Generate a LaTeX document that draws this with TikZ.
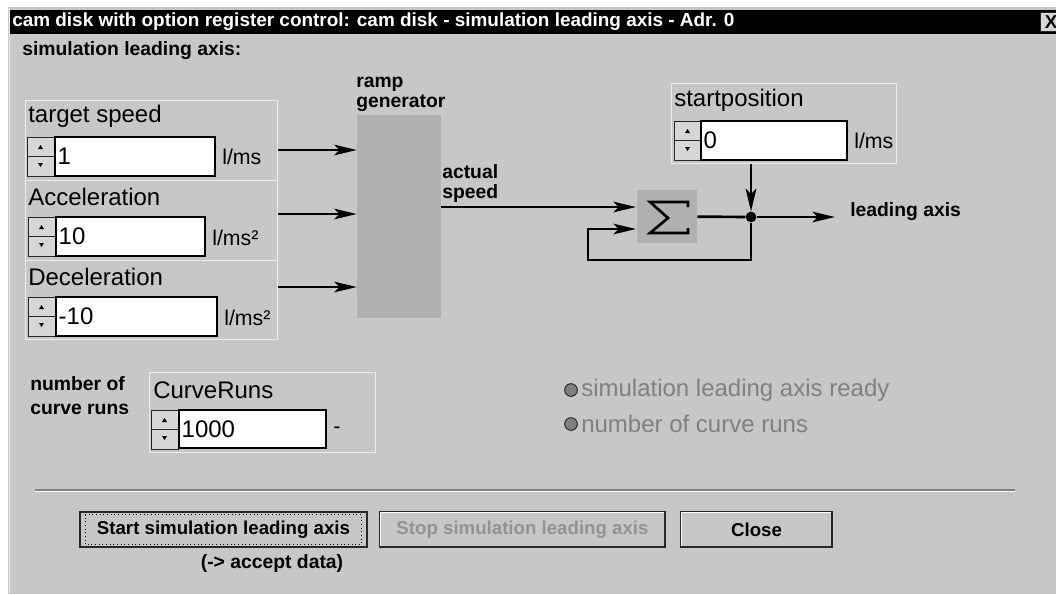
\documentclass[tikz,border=0pt]{standalone}
\usepackage{fontspec}
\setmainfont{Liberation Sans}
\usepackage{tikz}
\usetikzlibrary{arrows.meta,shapes}
\newcommand\BL{\fontsize{14.5}{15}\selectfont\bfseries}
\newcommand\GT{\fontsize{18}{20}\selectfont}
\newcommand\UT{\fontsize{16}{18}\selectfont}
\newcommand\TT{\fontsize{14.2}{16}\selectfont\bfseries}
\newcommand\BB{\fontsize{14}{16}\selectfont\bfseries}
\definecolor{dlg_gray}{RGB}{199,199,199}
\definecolor{ramp_gray}{RGB}{176,176,176}
\definecolor{btn_face}{RGB}{214,214,214}
\definecolor{etch_light}{RGB}{236,236,236}
\definecolor{text_gray}{RGB}{128,128,128}
\definecolor{edge_dark}{RGB}{40,40,40}
\newcommand\spinner[2]{%
  \begin{scope}[shift={(#1,#2)},line width=0.75pt]
    \filldraw[fill=btn_face,draw=edge_dark] (0,0) rectangle (27,19);
    \filldraw[fill=btn_face,draw=edge_dark] (0,19) rectangle (27,39);
    \fill (11,12) -- (16,12) -- (13.5,8) -- cycle;
    \fill (11,26) -- (16,26) -- (13.5,30) -- cycle;
  \end{scope}}

\begin{document}
\begin{tikzpicture}[x=0.75pt,y=-0.75pt]
    \tikzstyle{label}=[text=black,inner sep=0pt,anchor=west,font=\BL]
    \tikzstyle{grouptitle}=[inner sep=0pt,anchor=west,font=\GT]
    \tikzstyle{grp}=[draw=etch_light,line width=0.75pt,inner sep=0pt]
    \tikzstyle{field}=[draw=black,line width=1.5pt,fill=white,anchor=west,align=left,inner xsep=2pt,inner ysep=0pt,minimum height=29pt,font=\GT]
    \tikzstyle{unit}=[inner sep=0pt,anchor=west,font=\UT]
    \tikzstyle{block}=[fill=ramp_gray,inner sep=0pt]
    \tikzstyle{btn}=[draw=edge_dark,line width=1pt,fill=dlg_gray,minimum height=26.25pt,inner sep=0pt,font=\BB]
    \tikzstyle{led}=[circle,draw=edge_dark,line width=0.75pt,fill=text_gray,minimum size=9.5pt,inner sep=0pt]
    \tikzstyle{wire}=[->,line width=2pt,>={Stealth[length=17pt,width=8pt,inset=4pt]}]
    \tikzstyle{line}=[line width=2pt]

    % window
    \useasboundingbox (0,0) rectangle (1056,594);
    \fill[white] (0,0) rectangle (1056,594);
    \fill[dlg_gray] (8,7) rectangle (1056,594);
    \draw[etch_light,line width=1pt] (9.5,594) -- (9.5,8);
    \fill[black] (10,10) rectangle (1056,34);
    \node[text=white,inner sep=0pt,anchor=west,font=\TT] (title) at (12,22)
      {cam disk with option register control: cam disk - simulation leading axis - Adr. 0};
    \node[draw=edge_dark,fill=btn_face,line width=0.75pt,anchor=north west,minimum width=16pt,minimum height=14pt,inner sep=0pt,font=\BB] (X) at (1040,12) {X};
    \node[label] (head) at (22,51) {simulation leading axis:};

    % inputs
    \node[grp,minimum width=189pt,minimum height=60pt]    (T) at (151,140)   {};
    \node[grp,minimum width=189pt,minimum height=60pt]    (A) at (151,220)   {};
    \node[grp,minimum width=189pt,minimum height=59.25pt] (D) at (151,299.5) {};
    \node[grouptitle] (Tt) at (28,116) {target speed};
    \node[grouptitle] (At) at (28,197) {Acceleration};
    \node[grouptitle] (Dt) at (28,277) {Deceleration};
    \spinner{27}{137}
    \spinner{28}{217}
    \spinner{28}{297}
    \node[field,text width=116pt]    (tv) at (54,156.5) {1};
    \node[field,text width=107.75pt] (av) at (55,236.5) {10};
    \node[field,text width=116.75pt] (dv) at (55,316.5) {-10};
    \node[unit] (tu) at (222,157) {l/ms};
    \node[unit] (au) at (212,238) {l/ms²};
    \node[unit] (du) at (224,318) {l/ms²};

    % ramp generator and sum
    \node[block,minimum width=63pt,minimum height=152.25pt] (R) at (399,216.5) {};
    \node[label,anchor=north west,align=left] (Rt) at (356,77) {ramp\\generator};
    \node[label,anchor=north west,align=left] (Rv) at (442,164) {actual\\speed};
    \node[block,minimum width=45pt,minimum height=39.75pt] (S) at (667,216.5) {};
    \draw[line,shift={(S.center)}] (21,-9.5) -- (21,-14.5) -- (-17,-14.5) -- (1,1.5)
      -- (-17,16.5) -- (21,16.5) -- (21,11.5);
    \node[circle,fill=black,inner sep=0pt,minimum size=8pt] (J) at (751,217) {};

    % start position
    \node[grp,minimum width=168.75pt,minimum height=60pt] (P) at (783.5,123) {};
    \node[grouptitle] (Pt) at (674,100) {startposition};
    \spinner{674}{121}
    \node[field,text width=105.5pt] (pv) at (700,140.5) {0};
    \node[unit] (pu) at (854,141) {l/ms};

    \coordinate (t_out) at (278,150);
    \coordinate (a_out) at (278,214);
    \coordinate (d_out) at (278,287);
    \coordinate (s_in1) at (636,207);
    \coordinate (s_in2) at (636,229);
    \coordinate (fb)    at (588,260);
    \coordinate (L)     at (835,217);

    \draw[wire] (t_out) -- (t_out -| R.west);
    \draw[wire] (a_out) -- (a_out -| R.west);
    \draw[wire] (d_out) -- (d_out -| R.west);
    \draw[wire] (s_in1 -| R.east) -- (s_in1);
    \draw[line] (S) -- (J);
    \draw[wire] (J) |- (fb) |- (s_in2);
    \draw[wire] (P.south -| J) -- (J);
    \draw[wire] (J) -- (L);
    \node[label] (La) at (850,212) {leading axis};

    % curve runs
    \node[label,align=left] (Nt) at (30,396) {number of\\[3pt]curve runs};
    \node[grp,minimum width=169.5pt,minimum height=60pt] (C) at (262,412) {};
    \node[grouptitle] (Ct) at (153,390) {CurveRuns};
    \spinner{151}{410}
    \node[field,text width=106.25pt] (cv) at (178,429) {1000};
    \node[unit] (cu) at (333,430) {-};

    % status
    \node[led] (E1) at (571,390) {};
    \node[grouptitle,text=text_gray] (E1t) at (581,390) {simulation leading axis ready};
    \node[led] (E2) at (571,424) {};
    \node[grouptitle,text=text_gray] (E2t) at (581,424) {number of curve runs};

    % buttons
    \draw[text_gray,line width=1pt] (35,490) -- (1015,490);
    \draw[white,line width=1pt] (35,491.5) -- (1015,491.5);
    \node[btn,line width=2pt,minimum width=215.25pt] (start) at (223.5,529.5) {Start simulation leading axis};
    \draw[dotted,line width=0.75pt] ([xshift=5pt,yshift=3pt]start.south west) rectangle ([xshift=-5pt,yshift=-3pt]start.north east);
    \node[btn,minimum width=213.75pt,text=text_gray!85] (stop) at (522.5,529.5) {Stop simulation leading axis};
    \node[btn,minimum width=113.25pt] (close) at (756.5,529.5) {Close};
    \draw[white,line width=1pt] ([xshift=1pt,yshift=1pt]stop.south west) |- ([xshift=-1pt,yshift=-1pt]stop.north east);
    \draw[white,line width=1pt] ([xshift=1pt,yshift=1pt]close.south west) |- ([xshift=-1pt,yshift=-1pt]close.north east);
    \node[label,anchor=center] (acc) at (272,563) {(-> accept data)};
\end{tikzpicture}
\end{document}
